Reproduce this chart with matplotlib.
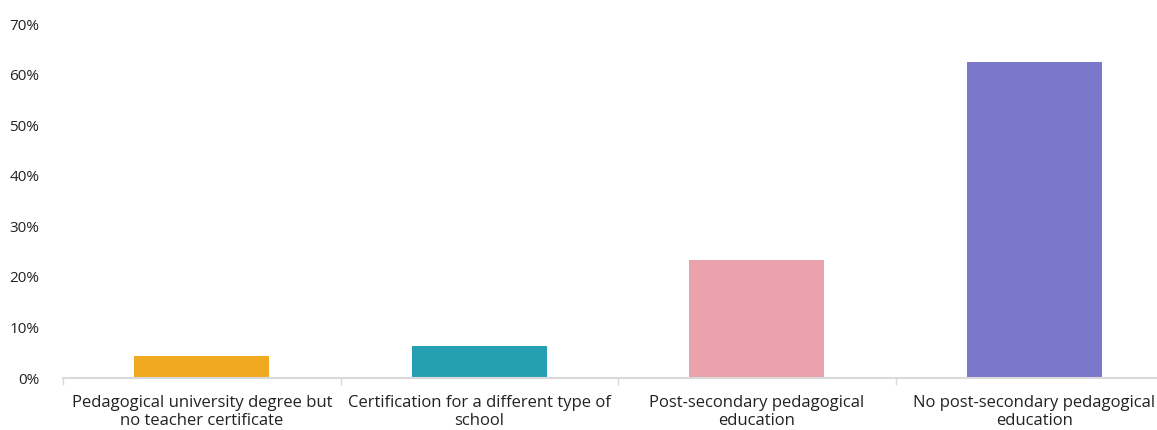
import matplotlib.pyplot as plt
from matplotlib.ticker import FuncFormatter, FixedLocator

# data
categories = ['Pedagogical university degree but\nno teacher certificate',
              'Certification for a different type of\nschool',
              'Post-secondary pedagogical\neducation',
              'No post-secondary pedagogical\neducation']
values = [4.4, 6.4, 23.4, 62.4]
bar_colors = ['#f0a920', '#25a0b3', '#eaa3ad', '#7b78cb']

plt.rcParams['font.family'] = ['Open Sans', 'DejaVu Sans']

fig = plt.figure(figsize=(11.57, 4.30), dpi=100)
# axis runs slightly past the right edge of the image, as in the reference
ax = fig.add_axes([63 / 1157, 1 - 378 / 430, (1173 - 63) / 1157, (378 - 24) / 430])

x = list(range(len(categories)))
ax.bar(x, values, width=0.485, color=bar_colors)

ax.set_xlim(-0.5, len(categories) - 0.5)
ax.set_ylim(0, 70)
ax.set_yticks(range(0, 71, 10))
ax.yaxis.set_major_formatter(FuncFormatter(lambda v, p: f'{v:.0f}%'))
ax.tick_params(axis='y', length=0, pad=17, labelsize=11, labelcolor='#222222')

ax.set_xticks(x)
ax.set_xticklabels(categories)
ax.xaxis.set_minor_locator(FixedLocator([i - 0.5 for i in range(len(categories) + 1)]))
ax.tick_params(axis='x', which='major', length=0, pad=12, labelsize=12, labelcolor='#222222')
ax.tick_params(axis='x', which='minor', length=5, color='#d9d9d9', width=1)
for lbl in ax.get_xticklabels():
    lbl.set_linespacing(1.2)

for s in ['top', 'right', 'left']:
    ax.spines[s].set_visible(False)
ax.spines['bottom'].set_color('#d9d9d9')
ax.spines['bottom'].set_linewidth(1.5)

fig.savefig('out.png', dpi=100)
